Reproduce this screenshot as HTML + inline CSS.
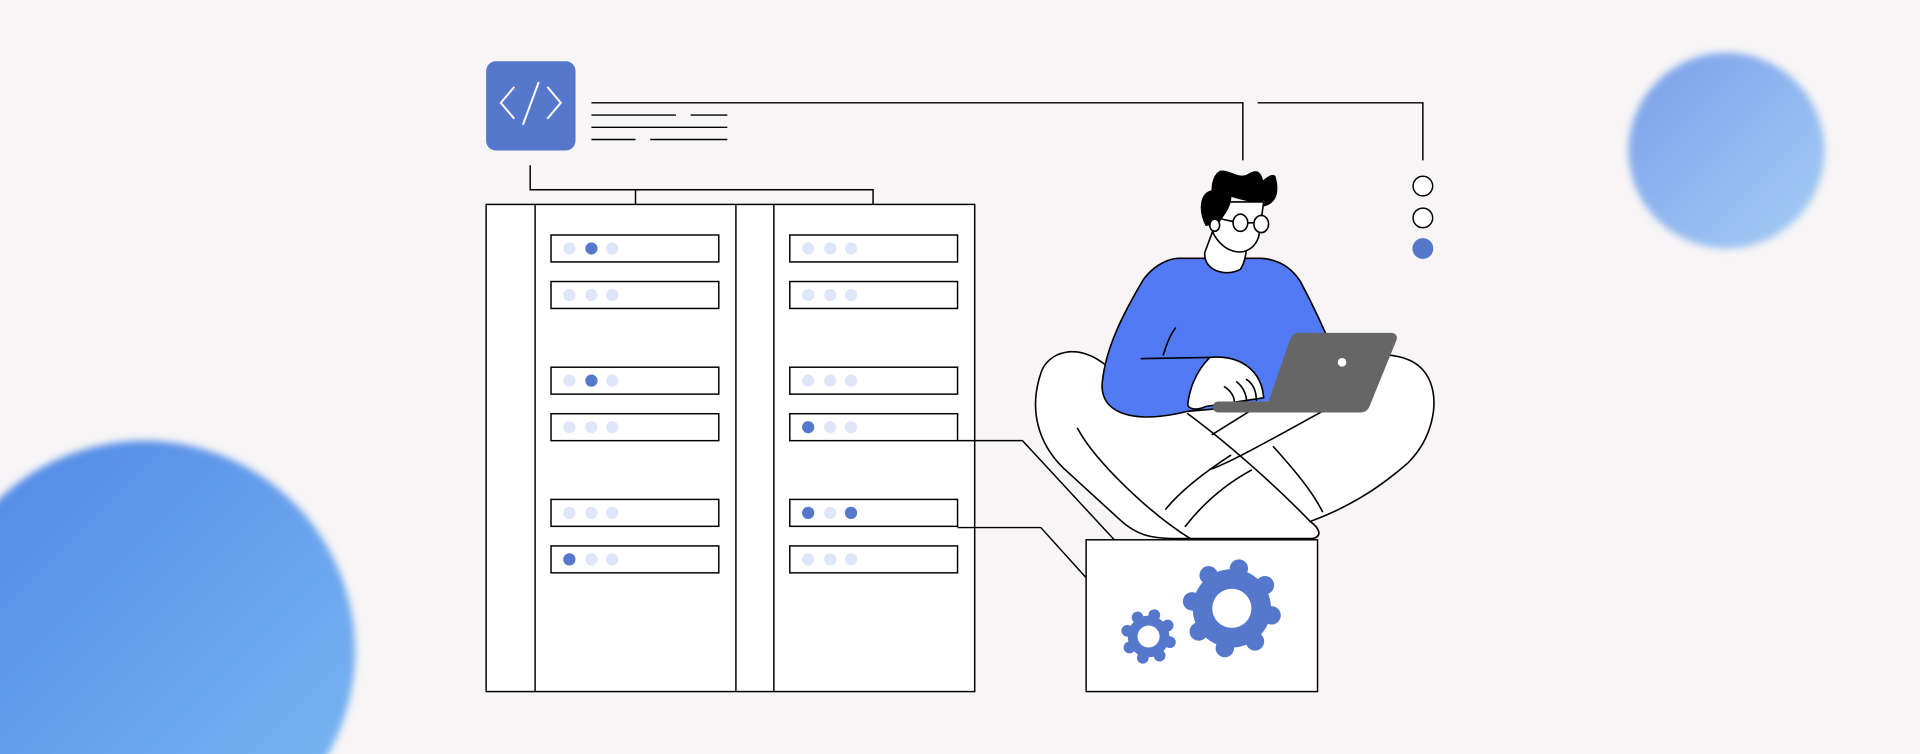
<!DOCTYPE html>
<html><head><meta charset="utf-8"><style>
html,body{margin:0;padding:0;background:#f7f5f6;overflow:hidden;width:1920px;height:754px}
svg{display:block}
</style></head><body>
<svg width="1920" height="754" viewBox="0 0 1568 616" preserveAspectRatio="none" xmlns="http://www.w3.org/2000/svg">
<defs>
<linearGradient id="g1" x1="0" y1="0" x2="1" y2="1"><stop offset="0" stop-color="#7a9fea"/><stop offset="1" stop-color="#a6cef5"/></linearGradient>
<linearGradient id="g2" x1="0" y1="0" x2="1" y2="1"><stop offset="0" stop-color="#5086e4"/><stop offset="1" stop-color="#7cbaf4"/></linearGradient>
<filter id="b" x="-20%" y="-20%" width="140%" height="140%"><feGaussianBlur stdDeviation="3"/></filter>
</defs>
<rect width="1568" height="616" fill="#f7f5f6"/>
<circle cx="1410" cy="123" r="80" fill="url(#g1)" filter="url(#b)"/>
<circle cx="118" cy="532" r="172" fill="url(#g2)" filter="url(#b)"/>

<g stroke="#000" stroke-width="1.2" fill="none">
<polyline points="483,84 1015,84 1015,131"/>
<polyline points="1027,84 1162,84 1162,131"/>
<line x1="483" y1="94" x2="552" y2="94"/><line x1="564" y1="94" x2="594" y2="94"/>
<line x1="483" y1="104" x2="594" y2="104"/>
<line x1="483" y1="114" x2="519" y2="114"/><line x1="531" y1="114" x2="594" y2="114"/>
<polyline points="433,135 433,155 713,155 713,167"/>
<line x1="519" y1="155" x2="519" y2="167"/>
</g>
<rect x="397" y="50" width="73" height="73" rx="8" fill="#5577cc"/>
<g stroke="#fff" stroke-width="1.6" fill="none">
<polyline points="420,71 409,84 420,97"/><polyline points="447,71 458,84 447,97"/><line x1="440" y1="67" x2="427" y2="102"/>
</g>

<g stroke="#000" stroke-width="1.2">
<rect x="397" y="167" width="399" height="398" fill="#fff"/>
<line x1="437" y1="167" x2="437" y2="565"/><line x1="601" y1="167" x2="601" y2="565"/><line x1="632" y1="167" x2="632" y2="565"/>
<g fill="#fff">
<rect x="450" y="192" width="137" height="22"/><rect x="450" y="230" width="137" height="22"/>
<rect x="450" y="300" width="137" height="22"/><rect x="450" y="338" width="137" height="22"/>
<rect x="450" y="408" width="137" height="22"/><rect x="450" y="446" width="137" height="22"/>
<rect x="645" y="192" width="137" height="22"/><rect x="645" y="230" width="137" height="22"/>
<rect x="645" y="300" width="137" height="22"/><rect x="645" y="338" width="137" height="22"/>
<rect x="645" y="408" width="137" height="22"/><rect x="645" y="446" width="137" height="22"/>
</g>
<g fill="none">
<polyline points="782,360 835,360 910,441"/>
<polyline points="782,431 850,431 887,472"/>
</g>
</g>
<g fill="#dfe6f9">
<circle cx="465" cy="203" r="5"/><circle cx="500" cy="203" r="5"/>
<circle cx="465" cy="241" r="5"/><circle cx="483" cy="241" r="5"/><circle cx="500" cy="241" r="5"/>
<circle cx="465" cy="311" r="5"/><circle cx="500" cy="311" r="5"/>
<circle cx="465" cy="349" r="5"/><circle cx="483" cy="349" r="5"/><circle cx="500" cy="349" r="5"/>
<circle cx="465" cy="419" r="5"/><circle cx="483" cy="419" r="5"/><circle cx="500" cy="419" r="5"/>
<circle cx="483" cy="457" r="5"/><circle cx="500" cy="457" r="5"/>
<circle cx="660" cy="203" r="5"/><circle cx="678" cy="203" r="5"/><circle cx="695" cy="203" r="5"/>
<circle cx="660" cy="241" r="5"/><circle cx="678" cy="241" r="5"/><circle cx="695" cy="241" r="5"/>
<circle cx="660" cy="311" r="5"/><circle cx="678" cy="311" r="5"/><circle cx="695" cy="311" r="5"/>
<circle cx="678" cy="349" r="5"/><circle cx="695" cy="349" r="5"/>
<circle cx="678" cy="419" r="5"/>
<circle cx="660" cy="457" r="5"/><circle cx="678" cy="457" r="5"/><circle cx="695" cy="457" r="5"/>
</g>
<g fill="#5577cc">
<circle cx="483" cy="203" r="5"/><circle cx="483" cy="311" r="5"/><circle cx="465" cy="457" r="5"/>
<circle cx="660" cy="349" r="5"/><circle cx="660" cy="419" r="5"/><circle cx="695" cy="419" r="5"/>
</g>

<circle cx="1162" cy="152" r="8" fill="#fff" stroke="#000" stroke-width="1.2"/>
<circle cx="1162" cy="178" r="8" fill="#fff" stroke="#000" stroke-width="1.2"/>
<circle cx="1162" cy="203" r="8.5" fill="#5577cc"/>

<g stroke="#000" stroke-width="1.3" stroke-linecap="round" stroke-linejoin="round">
<path d="M905,300 C880,278 855,288 850,305 C840,335 848,362 868,382 L915,425 C928,437 940,440 960,440 L1072,440 C1080,438 1078,432 1070,426 C1100,415 1125,400 1150,378 C1170,358 1175,330 1168,312 C1160,292 1140,288 1110,290 L1000,300 Z" fill="#fff"/>
<path d="M880,350 C895,378 940,420 972,440" fill="none"/>
<path d="M970,338 C1000,360 1040,395 1070,426" fill="none"/>
<path d="M1080,336 C1040,358 1010,375 990,383" fill="none"/>
<path d="M1030,330 L990,355" fill="none"/>
<path d="M1005,372 C985,385 965,400 952,416" fill="none"/>
<path d="M1022,384 C1000,396 982,412 968,430" fill="none"/>
<path d="M1040,365 C1058,385 1072,402 1080,418" fill="none"/>
<path d="M962,211 C950,212 940,220 934,228 C918,255 902,285 900,315 C900,340 930,346 970,336 L1040,330 L1090,290 C1080,265 1070,245 1062,230 C1055,219 1045,212 1030,211 Z" fill="#527af5"/>
<path d="M932,293 L988,292" fill="none"/>
<path d="M950,290 C953,280 956,273 960,268" fill="none"/>
<path d="M988,292 C1010,290 1030,300 1032,325 L985,332 C976,336 970,334 970,330 C972,315 978,302 988,292 Z" fill="#fff"/>
<path d="M1000,316 C1005,319 1008,324 1008,328 M1010,312 C1015,316 1018,322 1018,328 M1018,310 C1024,314 1026,320 1026,327" fill="none"/>
<path d="M990,190 L984,206 C982,220 1000,227 1013,220 C1017,214 1018,205 1018,200 Z" fill="#fff"/>
<path d="M990,165 C985,182 990,195 1002,203 C1015,210 1025,203 1028,193 L1032,165 Z" fill="#fff"/>
<path d="M990,156 C980,158 979,172 985,184 L995,182 C1001,173 1005,168 1005,160 C1015,163 1025,166 1033,163 L1032,168 C1041,166 1045,158 1041,144 C1037,142 1033,148 1031,148 C1029,139 1025,139 1019,143 C1011,147 1004,139 997,140 C992,142 990,149 990,156 Z" fill="#000"/>
<ellipse cx="1013" cy="182" rx="6" ry="7" fill="#fff"/>
<ellipse cx="1030" cy="183" rx="6" ry="7" fill="#fff"/>
<path d="M1019,182 L1024,182 M1007,181 L998,179" fill="none"/>
<ellipse cx="992" cy="184" rx="4" ry="5" fill="#fff"/>
</g>
<path d="M1060,272 L1136,272 C1140,272 1142,275 1140,279 L1118,333 C1116,336 1114,337 1110,337 L995,337 C989,337 989,328 995,328 L1036,328 L1053,279 C1055,274 1057,272 1060,272 Z" fill="#666"/>
<circle cx="1096" cy="296" r="3.5" fill="#fff"/>

<rect x="887" y="441" width="189" height="124" fill="#fff" stroke="#000" stroke-width="1.2"/>
<g fill="#5577cc">
<circle cx="1006" cy="497" r="32"/>
<circle cx="1006" cy="464" r="7.5" transform="rotate(10 1006 497)"/>
<circle cx="1006" cy="464" r="7.5" transform="rotate(55 1006 497)"/>
<circle cx="1006" cy="464" r="7.5" transform="rotate(100 1006 497)"/>
<circle cx="1006" cy="464" r="7.5" transform="rotate(145 1006 497)"/>
<circle cx="1006" cy="464" r="7.5" transform="rotate(190 1006 497)"/>
<circle cx="1006" cy="464" r="7.5" transform="rotate(235 1006 497)"/>
<circle cx="1006" cy="464" r="7.5" transform="rotate(280 1006 497)"/>
<circle cx="1006" cy="464" r="7.5" transform="rotate(325 1006 497)"/>
<circle cx="938" cy="520" r="17"/>
<circle cx="938" cy="502" r="4.8" transform="rotate(15 938 520)"/>
<circle cx="938" cy="502" r="4.8" transform="rotate(60 938 520)"/>
<circle cx="938" cy="502" r="4.8" transform="rotate(105 938 520)"/>
<circle cx="938" cy="502" r="4.8" transform="rotate(150 938 520)"/>
<circle cx="938" cy="502" r="4.8" transform="rotate(195 938 520)"/>
<circle cx="938" cy="502" r="4.8" transform="rotate(240 938 520)"/>
<circle cx="938" cy="502" r="4.8" transform="rotate(285 938 520)"/>
<circle cx="938" cy="502" r="4.8" transform="rotate(330 938 520)"/>
</g>
<circle cx="1006" cy="497" r="16" fill="#fff"/>
<circle cx="938" cy="520" r="9" fill="#fff"/>
</svg>
</body></html>
